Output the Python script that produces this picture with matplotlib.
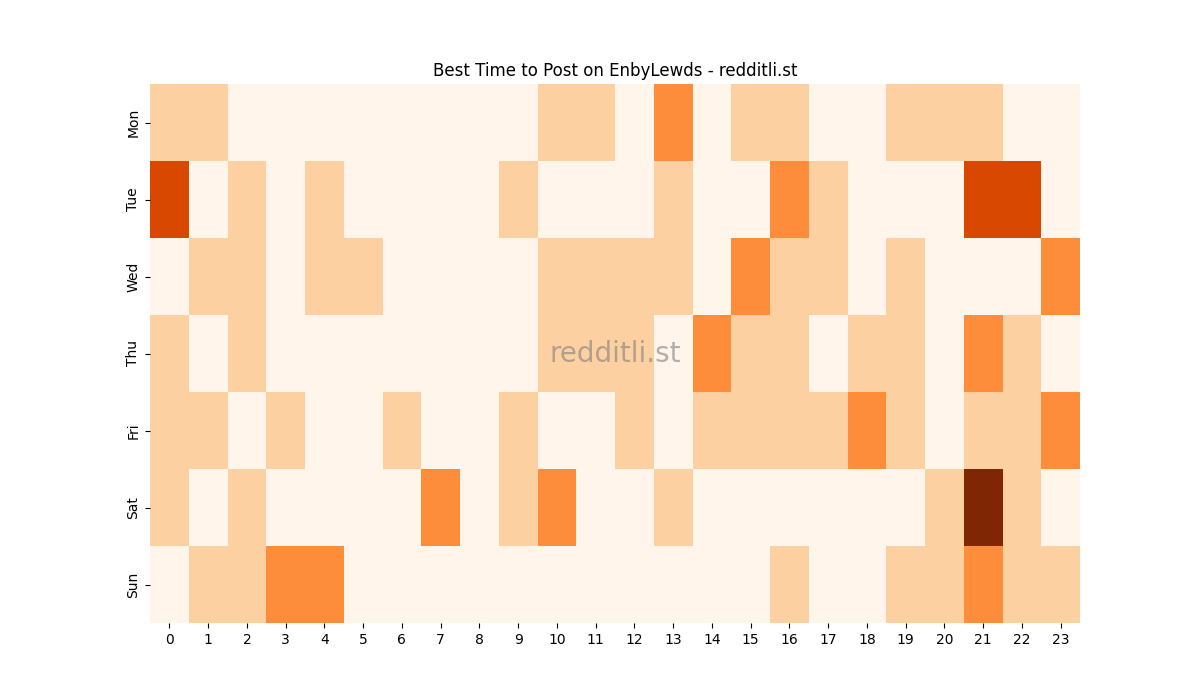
import matplotlib
matplotlib.use("Agg")
import matplotlib.pyplot as plt
import numpy as np
import seaborn as sns

days = ["Mon", "Tue", "Wed", "Thu", "Fri", "Sat", "Sun"]
hours = list(range(24))

mon = [1, 1, 0, 0, 0, 0, 0, 0, 0, 0, 1, 1, 0, 2, 0, 1, 1, 0, 0, 1, 1, 1, 0, 0]
tue = [3, 0, 1, 0, 1, 0, 0, 0, 0, 1, 0, 0, 0, 1, 0, 0, 2, 1, 0, 0, 0, 3, 3, 0]
wed = [0, 1, 1, 0, 1, 1, 0, 0, 0, 0, 1, 1, 1, 1, 0, 2, 1, 1, 0, 1, 0, 0, 0, 2]
thu = [1, 0, 1, 0, 0, 0, 0, 0, 0, 0, 1, 1, 1, 0, 2, 1, 1, 0, 1, 1, 0, 2, 1, 0]
fri = [1, 1, 0, 1, 0, 0, 1, 0, 0, 1, 0, 0, 1, 0, 1, 1, 1, 1, 2, 1, 0, 1, 1, 2]
sat = [1, 0, 1, 0, 0, 0, 0, 2, 0, 1, 2, 0, 0, 1, 0, 0, 0, 0, 0, 0, 1, 4, 1, 0]
sun = [0, 1, 1, 2, 2, 0, 0, 0, 0, 0, 0, 0, 0, 0, 0, 0, 1, 0, 0, 1, 1, 2, 1, 1]

data = np.array([mon, tue, wed, thu, fri, sat, sun])

fig, ax = plt.subplots(figsize=(12, 7), dpi=100)
sns.heatmap(data, cmap="Oranges", cbar=False, ax=ax,
            xticklabels=hours, yticklabels=days)
ax.set_title("Best Time to Post on EnbyLewds - redditli.st")
ax.text(0.5, 0.5, "redditli.st", transform=ax.transAxes, ha="center",
        va="center", fontsize=20, color="gray", alpha=0.6)
plt.savefig("out.png", dpi=100)
